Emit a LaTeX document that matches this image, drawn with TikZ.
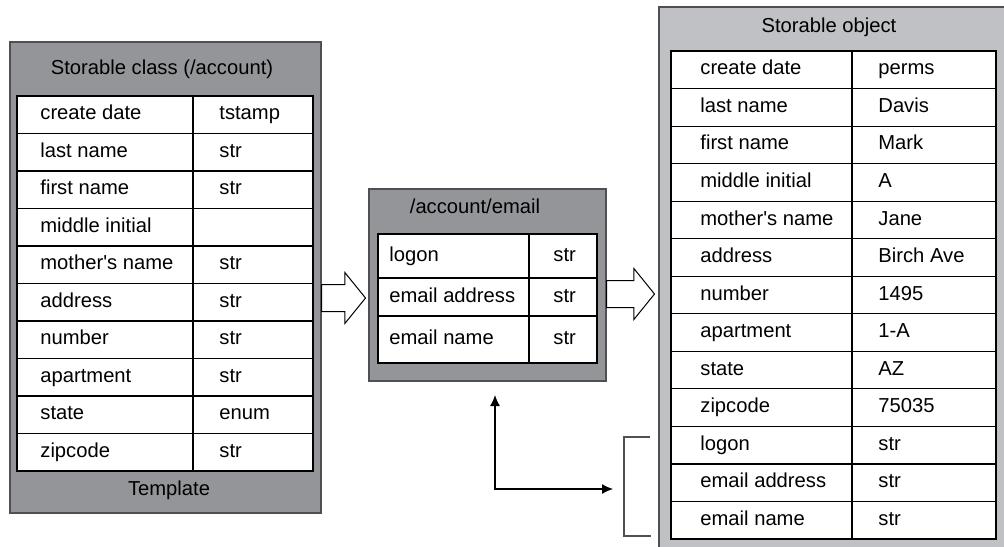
\documentclass[tikz,border=0pt]{standalone}
\usepackage{fontspec}
\setmainfont{Liberation Sans}
\usetikzlibrary{fit,shapes.arrows,arrows.meta}
\definecolor{paneldark}{RGB}{147,149,152}
\definecolor{panellight}{RGB}{192,193,197}
\definecolor{edgegray}{RGB}{80,80,84}
\newcommand{\cellfont}{\fontsize{10.1}{12}\selectfont}
\tikzset{panel/.style={draw=edgegray, line width=1pt, fill=paneldark, inner sep=0pt}}
\tikzset{grid/.style={draw=black, line width=0.55pt, fill=white}}
\tikzset{rule/.style={line width=0.55pt}}
\tikzset{cell/.style={anchor=west, inner sep=0pt, text height=7.2pt, text depth=2.1pt, font=\cellfont}}
\tikzset{caption/.style={inner sep=0pt, text height=7.2pt, text depth=2.1pt, font=\cellfont}}
\tikzset{blockarrow/.style={single arrow, draw=black, line width=0.5pt, fill=white, inner xsep=0pt, inner ysep=6.5pt, single arrow head extend=6pt, single arrow tip angle=102, anchor=tail}}
\tikzset{link/.style={<->, >={Latex[length=5.5pt,width=5pt]}, line width=0.6pt}}

\begin{document}
\begin{tikzpicture}[x=0.5pt, y=-0.5pt]
  \useasboundingbox (0,0) rectangle (1004,546);

  % storable class
  \node[panel, fit={(10,42) (321,513)}] (cls) {};
  \node[caption] (cls-title) at (162,69) {Storable class (/account)};
  \node[caption] (cls-foot) at (169,490) {Template};
  \draw[grid] (17,96) rectangle (313,471);
  \foreach \r in {1,...,9} \draw[rule] (17,{96+37.5*\r}) -- (313,{96+37.5*\r});
  \draw[rule] (193,96) -- (193,471);
  \foreach \k/\v [count=\i] in {create date/tstamp, last name/str, first name/str,
      middle initial/{}, mother\textquotesingle s name/str, address/str, number/str,
      apartment/str, state/enum, zipcode/str}
  {
    \node[cell] (cls-k\i) at (40,{96+37.5*(\i-0.5)}) {\k};
    \node[cell] (cls-v\i) at (219,{96+37.5*(\i-0.5)}) {\v};
  }

  % /account/email
  \node[panel, fit={(369,189) (606,381)}] (acct) {};
  \node[caption] (acct-title) at (475,208) {/account/email};
  \draw[grid] (378,234) rectangle (597,363);
  \draw[rule] (378,278) -- (597,278) (378,316) -- (597,316);
  \draw[rule] (529,234) -- (529,363);
  \foreach \k/\y [count=\i] in {logon/256, email address/297, email name/339.5}
  {
    \node[cell] (acct-k\i) at (389,\y) {\k};
    \node[cell] (acct-v\i) at (553,\y) {str};
  }

  % storable object
  \node[panel, fill=panellight, fit={(659,7) (1012,556)}] (obj) {};
  \node[caption] (obj-title) at (829,27) {Storable object};
  \draw[grid] (671,51) rectangle (996,539);
  \foreach \r in {1,...,12} \draw[rule] (671,{51+37.54*\r}) -- (996,{51+37.54*\r});
  \draw[rule] (852,51) -- (852,539);
  \foreach \k/\v [count=\i] in {create date/perms, last name/Davis, first name/Mark,
      middle initial/A, mother\textquotesingle s name/Jane, address/Birch Ave,
      number/1495, apartment/1-A, state/AZ, zipcode/75035, logon/str,
      email address/str, email name/str}
  {
    \node[cell] (obj-k\i) at (700,{51+37.54*(\i-0.5)}) {\k};
    \node[cell] (obj-v\i) at (878,{51+37.54*(\i-0.5)}) {\v};
  }

  \node[blockarrow, minimum height=22pt] (tmpl-arrow) at (321,298) {};
  \node[blockarrow, minimum height=24pt] (inst-arrow) at (606,294) {};

  % email part of the object
  \draw[rule, draw=edgegray] (650,437) -- (624,437) -- (624,536) -- (651,536);
  \coordinate (lnk-up) at (495,395);
  \coordinate (lnk-rt) at (613,489);
  \draw[link] (lnk-up) |- (lnk-rt);
\end{tikzpicture}
\end{document}
